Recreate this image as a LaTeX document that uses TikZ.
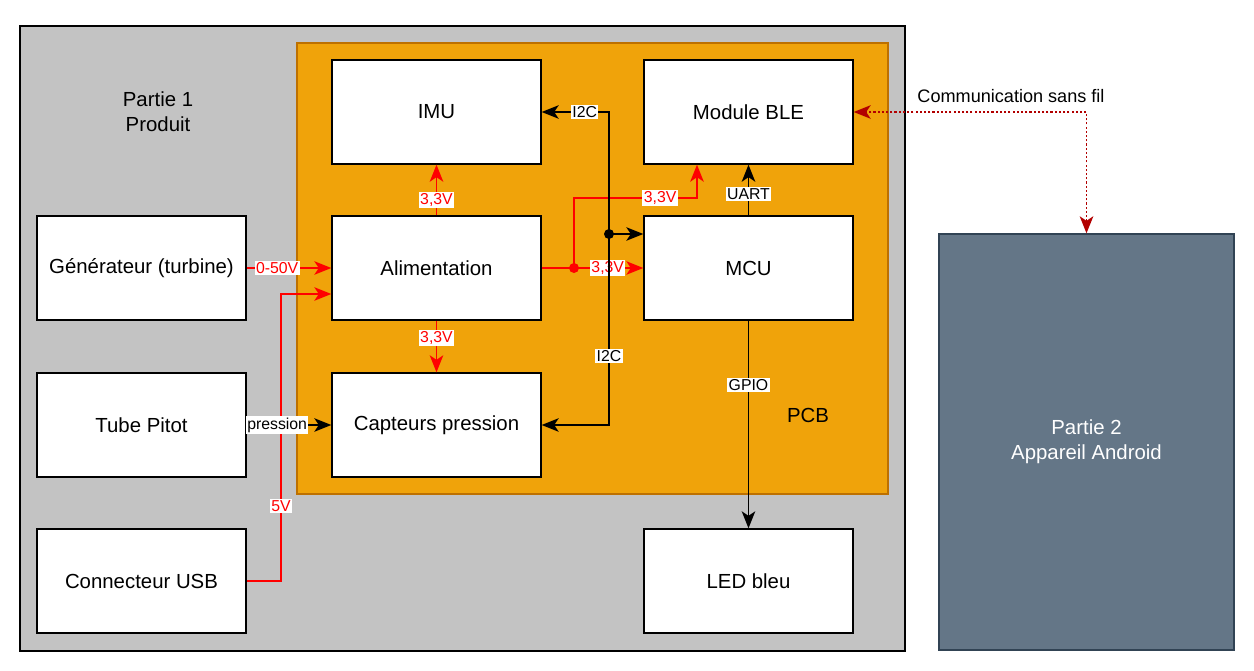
\documentclass[tikz,border=0pt]{standalone}
\usepackage{fontspec}
\setmainfont{Liberation Sans}
\usepackage{tikz}
\usetikzlibrary{arrows.meta}

\definecolor{fondgris}{HTML}{C3C3C3}
\definecolor{pcb}{HTML}{F0A30A}
\definecolor{pcbbord}{HTML}{BD7000}
\definecolor{android}{HTML}{647687}
\definecolor{androidbord}{HTML}{314354}
\definecolor{rougefonce}{HTML}{B20000}

\tikzset{
  bloc/.style={draw, fill=white, line width=0.8pt, minimum width=4.18cm, minimum height=2.08cm, font=\fontsize{11.6}{14}\selectfont},
  lbl/.style={fill=white, inner sep=0.8pt, font=\fontsize{9}{10}\selectfont},
  pointe/.tip={Stealth[length=0.34cm, width=0.27cm, inset=0.09cm]},
  fleche/.style={-pointe, line width=1pt},
  rouge/.style={fleche, red},
  noir/.style={fleche, black},
}

\begin{document}
\begin{tikzpicture}[x=0.02cm, y=-0.02cm]
\useasboundingbox (0,0) rectangle (1254,670);
% fonds
\draw[fill=fondgris, line width=0.8pt] (20,26) rectangle (905,651);
\draw[fill=pcb, draw=pcbbord, line width=0.8pt] (297,43) rectangle (888,494);
\node[font=\fontsize{11.6}{14}\selectfont, align=center] (partie1) at (158,112) {Partie 1\\Produit};
\node[font=\fontsize{11.6}{14}\selectfont] (pcbtxt) at (808,415) {PCB};
% blocs
\node[bloc] (imu) at (436.5,112) {IMU};
\node[bloc] (ble) at (748.5,112) {Module BLE};
\node[bloc] (alim) at (436.5,268) {Alimentation};
\node[bloc] (mcu) at (748.5,268) {MCU};
\node[bloc] (capt) at (436.5,425) {Capteurs pression};
\node[bloc] (gen) at (141.5,268) {Générateur (turbine)};
\node[bloc] (pitot) at (141.5,425) {Tube Pitot};
\node[bloc] (usb) at (141.5,581) {Connecteur USB};
\node[bloc] (led) at (748.5,581) {LED bleu};
\node[bloc, fill=android, draw=androidbord, text=white, minimum width=5.9cm, minimum height=8.32cm, align=center] (android) at (1086.5,442) {Partie 2\\Appareil Android};
% alimentation
\draw[rouge] (gen) -- node[lbl, text=red, pos=0.36]{0-50V} (alim);
\coordinate (c5v) at (281,294);
\draw[rouge] (usb.east) -| node[lbl, text=red, pos=0.63]{5V} (c5v) -- (c5v -| alim.west);
\draw[rouge] (alim) -- node[lbl, text=red, pos=0.3]{3,3V} (imu);
\draw[rouge] (alim) -- node[lbl, text=red, pos=0.34]{3,3V} (capt);
\draw[rouge] (alim) -- node[lbl, text=red, pos=0.65]{3,3V} (mcu);
\coordinate (p1) at (574,268);
\coordinate (cble) at (697,198);
\draw[rouge] (p1) |- node[lbl, text=red, pos=0.85]{3,3V} (cble) -- (cble |- ble.south);
\fill[red] (p1) circle [radius=5];
% bus et signaux
\draw[noir] (pitot) -- node[lbl, pos=0.36]{pression} (capt);
\coordinate (p2) at (609,234);
\draw[noir] (p2) -- (p2 -| mcu.west);
\draw[noir] (p2) |- node[lbl, pos=0.68]{I2C} (imu.east);
\draw[noir] (p2) |- node[lbl, pos=0.32]{I2C} (capt.east);
\fill (p2) circle [radius=5];
\draw[noir] (mcu) -- node[lbl, pos=0.42]{UART} (ble);
\draw[noir] (mcu) -- node[lbl, pos=0.31]{GPIO} (led);
% sans fil
\draw[rougefonce, line width=1pt, dash pattern=on 1.2pt off 1.2pt, pointe-pointe] (android.north) |- (ble.east);
\node[font=\fontsize{10.3}{12}\selectfont] (sansfil) at (1011,96) {Communication sans fil};
\end{tikzpicture}
\end{document}
